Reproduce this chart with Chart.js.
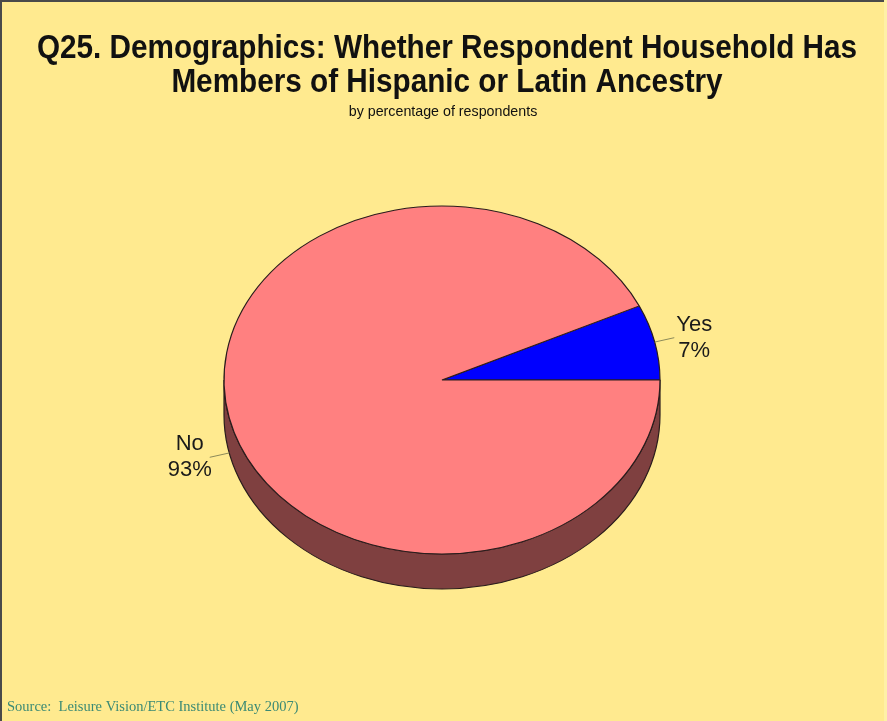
<!DOCTYPE html>
<html>
<head>
<meta charset="utf-8">
<script src="https://cdn.jsdelivr.net/npm/chart.js@4"></script>
<style>
  html, body { margin: 0; padding: 0; background: #ffea8f; }
  #wrap { width: 887px; height: 721px; position: relative; }
</style>
</head>
<body>
<div id="wrap"><canvas id="c" width="887" height="721"></canvas></div>
<script>
// Survey answers and their shares
const categories = ['Yes', 'No'];
const percentages = [7, 93];
const valueLabels = ['7%', '93%'];

const titleLines = [
  'Q25. Demographics: Whether Respondent Household Has',
  'Members of Hispanic or Latin Ancestry'
];
const subtitleText = 'by percentage of respondents';
const sourceText = 'Source:  Leisure Vision/ETC Institute (May 2007)';

const topColors = ['#0000ff', '#ff8080'];
const sideColors = ['#00007f', '#7f4040'];
const edgeColor = '#2a1c1c';
const bgColor = '#ffea8f';

// vertical squash of the pie face and thickness of the rim (px)
const tilt = 0.798;
const depth = 35;

// draws narrow text centred at (x, y)
function condensedText(ctx, text, x, y, squeeze) {
  ctx.save();
  ctx.translate(x, y);
  ctx.scale(squeeze, 1);
  ctx.fillText(text, 0, 0);
  ctx.restore();
}

const pie3d = {
  id: 'pie3d',
  beforeDraw(chart) {
    const ctx = chart.ctx;
    const w = chart.width, h = chart.height;
    ctx.save();
    ctx.fillStyle = bgColor;
    ctx.fillRect(0, 0, w, h);
    ctx.fillStyle = '#fff0a6';
    ctx.fillRect(w - 3, 0, 3, h);
    ctx.fillStyle = '#4a4a4a';
    ctx.fillRect(0, 0, w - 3, 2);
    ctx.fillRect(0, 0, 2, h);

    // titles
    ctx.fillStyle = '#111';
    ctx.textAlign = 'center';
    ctx.textBaseline = 'alphabetic';
    ctx.font = 'bold 33px "Liberation Sans", Arial, sans-serif';
    condensedText(ctx, titleLines[0], 447, 58, 0.9);
    condensedText(ctx, titleLines[1], 447, 92, 0.9);
    ctx.font = '15px "Liberation Sans", Arial, sans-serif';
    condensedText(ctx, subtitleText, 443, 116, 0.95);

    // source note
    ctx.textAlign = 'left';
    ctx.fillStyle = '#3b8a74';
    ctx.font = '14.5px "Liberation Serif", "Times New Roman", serif';
    ctx.fillText(sourceText, 7, 711);
    ctx.restore();
  },
  beforeDatasetsDraw(chart) {
    const ctx = chart.ctx;
    const meta = chart.getDatasetMeta(0);
    const cx = meta.data[0].x, cy = meta.data[0].y;
    ctx.save();
    ctx.translate(cx, cy);
    ctx.scale(1, tilt);
    ctx.translate(-cx, -cy);
    const d = depth / tilt;
    // rim of each slice, only on the front half
    meta.data.forEach((arc, i) => {
      const { startAngle, endAngle, outerRadius } = arc.getProps(['startAngle', 'endAngle', 'outerRadius']);
      [-2 * Math.PI, 0, 2 * Math.PI].forEach(base => {
        const a0 = Math.max(startAngle, base);
        const a1 = Math.min(endAngle, base + Math.PI);
        if (a1 <= a0) return;
        ctx.beginPath();
        ctx.arc(cx, cy, outerRadius, a0, a1);
        ctx.arc(cx, cy + d, outerRadius, a1, a0, true);
        ctx.closePath();
        ctx.fillStyle = sideColors[i];
        ctx.fill();
        ctx.lineWidth = 1.2;
        ctx.strokeStyle = edgeColor;
        ctx.stroke();
      });
    });
  },
  afterDatasetsDraw(chart) {
    const ctx = chart.ctx;
    ctx.restore();
    const meta = chart.getDatasetMeta(0);
    ctx.save();
    meta.data.forEach((arc, i) => {
      const { x, y, startAngle, endAngle, outerRadius } = arc.getProps(['x', 'y', 'startAngle', 'endAngle', 'outerRadius']);
      const mid = (startAngle + endAngle) / 2;
      const c = Math.cos(mid), s = Math.sin(mid);
      const ax = x + outerRadius * c;
      const ay = y + outerRadius * tilt * s + (s > 0 ? depth : 0);
      const ex = ax + 20 * c, ey = ay + 20 * s;
      ctx.beginPath();
      ctx.moveTo(ax, ay);
      ctx.lineTo(ex, ey);
      ctx.strokeStyle = '#8c8a5a';
      ctx.lineWidth = 1;
      ctx.stroke();
      const tx = ex + (c >= 0 ? 20 : -20);
      ctx.fillStyle = '#1a1a1a';
      ctx.font = '22px "Liberation Sans", Arial, sans-serif';
      ctx.textAlign = 'center';
      ctx.textBaseline = 'middle';
      ctx.fillText(categories[i], tx, ey - 13);
      ctx.fillText(valueLabels[i], tx, ey + 13);
    });
    ctx.restore();
  }
};

new Chart(document.getElementById('c'), {
  type: 'pie',
  data: {
    labels: categories,
    datasets: [{
      data: percentages,
      backgroundColor: topColors,
      borderColor: edgeColor,
      borderWidth: 1.2,
      radius: 218
    }]
  },
  options: {
    responsive: false,
    animation: false,
    events: [],
    rotation: 90 - percentages[0] * 3.6,
    layout: { padding: { left: 224, right: 227, top: 162, bottom: 123 } },
    plugins: {
      legend: { display: false },
      tooltip: { enabled: false },
      title: { display: false }
    }
  },
  plugins: [pie3d]
});
</script>
</body>
</html>
